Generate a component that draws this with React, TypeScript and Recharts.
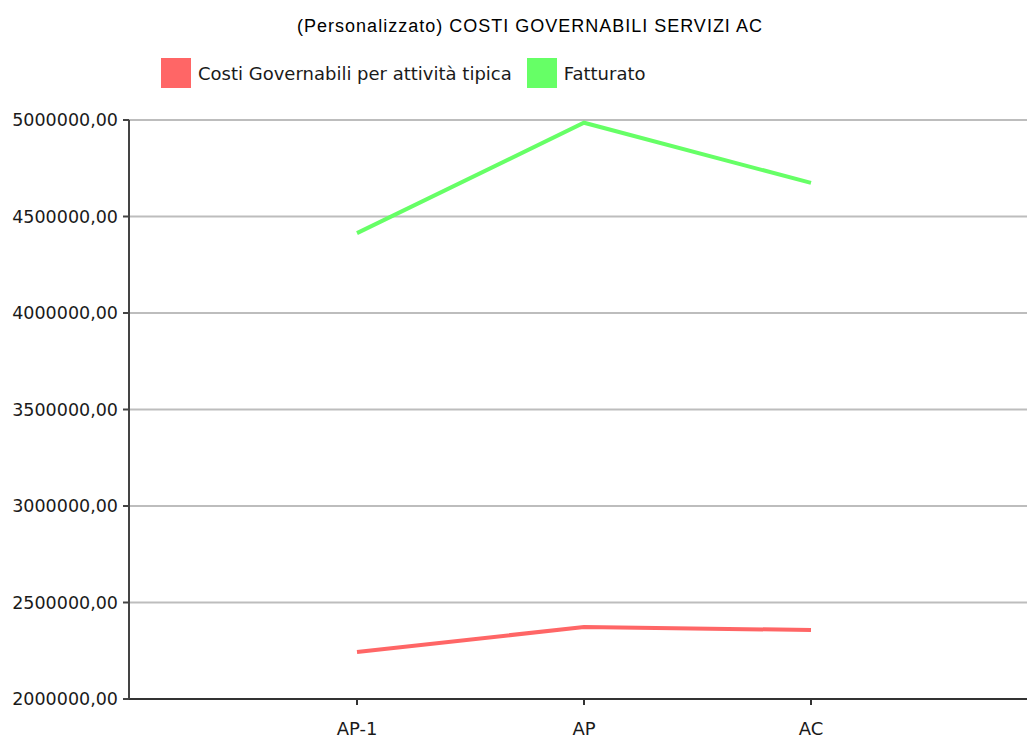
import { CartesianGrid, Line, LineChart, XAxis, YAxis } from "recharts";

const categories = ["AP-1", "AP", "AC"];
const costiGovernabili = [2243500, 2373000, 2357500];
const fatturato = [4414000, 4986000, 4674000];
const yTicks = [2000000, 2500000, 3000000, 3500000, 4000000, 4500000, 5000000];

const seriesNames = ["Costi Governabili per attività tipica", "Fatturato"];
const seriesColors = ["#ff6666", "#66ff66"];

const data = categories.map((c, i) => ({
  name: c,
  costi: costiGovernabili[i],
  fatt: fatturato[i]
}));

const labelFont = "'DejaVu Sans', sans-serif";

function LegendBox() {
  return (
    <div
      style={{
        position: "absolute",
        top: 58,
        left: 161,
        display: "flex",
        alignItems: "center",
        fontFamily: labelFont,
        fontSize: 18,
        color: "#1a1a1a",
        whiteSpace: "nowrap"
      }}
    >
      {seriesNames.map((n, i) => (
        <div key={n} style={{ display: "flex", alignItems: "center", marginRight: 15 }}>
          <span style={{ width: 30, height: 30, background: seriesColors[i], display: "inline-block", marginRight: 7 }} />
          <span>{n}</span>
        </div>
      ))}
    </div>
  );
}

export default function App() {
  return (
    <div style={{ position: "absolute", left: 0, top: 0, width: 1027, height: 738, background: "#fff" }}>
      <div
        style={{
          position: "absolute",
          top: 16,
          left: 0,
          width: 1060,
          textAlign: "center",
          fontFamily: "'Liberation Sans', Arial, sans-serif",
          fontSize: 18,
          letterSpacing: 1,
          color: "#000"
        }}
      >
        (Personalizzato) COSTI GOVERNABILI SERVIZI AC
      </div>
      <LegendBox />
      <LineChart width={1027} height={738} data={data} margin={{ top: 120, right: 0, bottom: 0, left: 0 }}>
        <CartesianGrid vertical={false} stroke="#bdbdbd" strokeWidth={2} />
        <XAxis
          dataKey="name"
          padding={{ left: 228, right: 216 }}
          height={39}
          stroke="#333"
          strokeWidth={2}
          tickSize={6}
          tickMargin={17}
          tick={{ fill: "#1a1a1a", fontSize: 18, fontFamily: labelFont }}
        />
        <YAxis
          domain={[2000000, 5000000]}
          ticks={yTicks}
          width={129}
          stroke="#444"
          strokeWidth={2}
          tickSize={6}
          tickMargin={5}
          tickFormatter={(v) => `${v},00`}
          tick={{ fill: "#1a1a1a", fontSize: 17.5, fontFamily: labelFont }}
        />
        <Line
          dataKey="costi"
          name={seriesNames[0]}
          stroke={seriesColors[0]}
          strokeWidth={4}
          dot={false}
          activeDot={false}
          isAnimationActive={false}
        />
        <Line
          dataKey="fatt"
          name={seriesNames[1]}
          stroke={seriesColors[1]}
          strokeWidth={4}
          dot={false}
          activeDot={false}
          isAnimationActive={false}
        />
      </LineChart>
    </div>
  );
}
